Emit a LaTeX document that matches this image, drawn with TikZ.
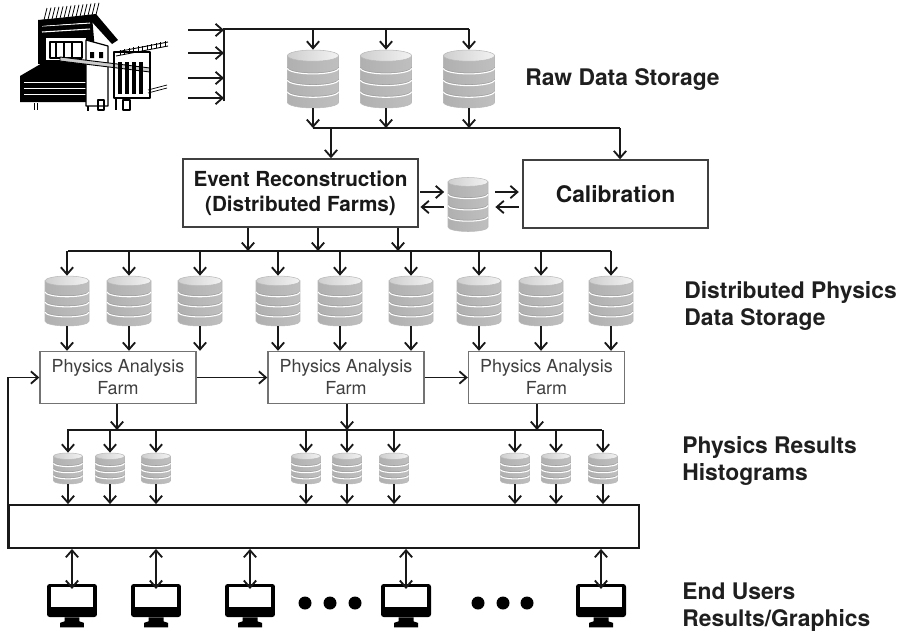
\documentclass[tikz,border=0pt]{standalone}
\usepackage{fontspec}
\setmainfont{TeX Gyre Heros}
\usetikzlibrary{arrows.meta}

% disk stack: name, centre, width, height (all in px units of the picture)
\newcommand{\dbstack}[4]{%
  \node[inner sep=0pt, minimum width={#3*0.02cm}, minimum height={#4*0.02cm}] (#1) at (#2) {};
  \begin{scope}[shift={(#1.center)}]
    \pgfmathsetmacro\dbrx{#3/2}
    \pgfmathsetmacro\dbry{#3*0.11}
    \pgfmathsetmacro\dbtop{-#4/2+\dbry}
    \pgfmathsetmacro\dbbot{#4/2-\dbry}
    \pgfmathsetmacro\dbseg{(\dbbot-\dbtop)/4}
    \path[left color=gray!62, middle color=white, right color=gray!50, draw=gray!55, line width=0.3pt]
      (-\dbrx,\dbtop) -- (-\dbrx,\dbbot) arc[start angle=180, end angle=0, x radius=\dbrx, y radius=\dbry] -- (\dbrx,\dbtop) -- cycle;
    \foreach \k in {1,2,3}{
      \pgfmathsetmacro\dby{\dbtop+\k*\dbseg}
      \draw[gray!75, line width=0.35pt] (-\dbrx,\dby) arc[start angle=180, end angle=0, x radius=\dbrx, y radius=\dbry];
      \draw[white, line width=0.6pt] (-\dbrx,\dby+1) arc[start angle=180, end angle=0, x radius=\dbrx, y radius=\dbry];
    }
    \path[left color=gray!38, right color=gray!10, draw=gray!55, line width=0.3pt] (0,\dbtop) ellipse[x radius=\dbrx, y radius=\dbry];
  \end{scope}
}

% desktop display: name, centre of the screen
\newcommand{\userscreen}[2]{%
  \node[fill=black, rounded corners=1.5pt, inner sep=0pt, minimum width=1cm, minimum height=0.66cm] (#1) at (#2) {};
  \fill[white] ([xshift=0.08cm,yshift=-0.07cm]#1.north west) rectangle ([xshift=-0.08cm,yshift=0.2cm]#1.south east);
  \fill[black] ([xshift=-0.15cm]#1.south) -- ([xshift=0.15cm]#1.south) -- ([xshift=0.15cm,yshift=-0.08cm]#1.south)
    -- ([xshift=0.24cm,yshift=-0.11cm]#1.south) -- ([xshift=0.24cm,yshift=-0.2cm]#1.south)
    -- ([xshift=-0.24cm,yshift=-0.2cm]#1.south) -- ([xshift=-0.24cm,yshift=-0.11cm]#1.south)
    -- ([xshift=-0.15cm,yshift=-0.08cm]#1.south) -- cycle;
}

\begin{document}
\begin{tikzpicture}[x=0.02cm, y=-0.02cm,
    arr/.style={-{Straight Barb[length=4pt,width=7pt]}, line width=1.05pt, black!90},
    biarr/.style={{Straight Barb[length=4pt,width=7pt]}-{Straight Barb[length=4pt,width=7pt]}, line width=1.05pt, black!90},
    bus/.style={line width=1.05pt, black!90},
    stagebox/.style={draw=black!75, line width=0.8pt, fill=white, inner sep=0pt, align=center, text=black!90},
    farmbox/.style={draw=black!55, line width=0.8pt, fill=white, inner sep=0pt, minimum width=3.12cm, minimum height=1.04cm,
      align=center, text=black!75, font=\fontsize{10.2}{12.5}\selectfont},
    tag/.style={anchor=west, inner sep=0pt, align=left, text=black!88, font=\bfseries\fontsize{13}{15.6}\selectfont}]
\useasboundingbox (0,0) rectangle (909,633);

% detector
\begin{scope}[line width=0.7pt, line join=round]
  \fill[black] (20,76) -- (44,62) -- (90,62) -- (90,102) -- (20,102) -- cycle;
  \foreach \y in {82,88,94} \draw[white, line width=0.4pt] (24,\y) -- (86,\y);
  \fill[black] (38,20) -- (92,16) -- (96,62) -- (38,64) -- cycle;
  \fill[white] (46,38) rectangle (86,60);
  \draw[white, line width=0.6pt] (42,26) -- (90,23) (42,32) -- (90,29);
  \draw (50,42) rectangle (82,58) (56,42) -- (56,58) (64,42) -- (64,58) (72,42) -- (72,58);
  \fill[black] (40,20) -- (96,14) -- (118,40) -- (112,44) -- (92,22) -- (40,26) -- cycle;
  \foreach \i in {0,...,13} \draw[line width=0.45pt] (44+4*\i,{20-0.4*\i}) -- (47+4*\i,{8-0.4*\i});
  \filldraw[fill=white] (86,40) -- (108,46) -- (108,106) -- (86,106) -- cycle;
  \fill (90,52) rectangle (94,58) (99,52) rectangle (103,58);
  \filldraw[fill=gray!40, line width=0.5pt] (60,57) -- (150,68) -- (150,72) -- (60,61) -- cycle;
  \draw (114,52) rectangle (150,98);
  \foreach \x in {118,125,132,139} \fill (\x,62) rectangle (\x+4,94);
  \draw[line width=0.5pt] (116,52) -- (168,42) (116,56) -- (168,46);
  \foreach \i in {0,...,10} \draw[line width=0.4pt] (120+4.5*\i,{55-0.9*\i}) -- (120+4.5*\i,{50-0.9*\i});
  \draw (88,106) -- (88,111) (98,100) rectangle (104,110) (116,98) -- (116,110) (123,100) rectangle (130,110);
  \draw[line width=0.4pt] (148,90) -- (167,85) (148,93) -- (167,88);
  \draw[line width=0.4pt] (34,103) -- (34,110) (37,103) -- (37,110);
\end{scope}

% raw data
\foreach \i/\y in {1/30,2/53,3/78,4/98} \coordinate (in\i) at (188,\y);
\coordinate (inbus) at (224,29);
\coordinate (inbusend) at (224,101);
\dbstack{raw1}{313,79}{51}{58}
\dbstack{raw2}{386,79}{51}{58}
\dbstack{raw3}{469,79}{51}{58}
\draw[bus] (inbusend) -- (inbus) -- (inbus -| raw3.north);
\foreach \i in {1,...,4} \draw[arr] (in\i) -- (in\i -| inbus);
\foreach \i in {1,2,3} \draw[arr] (raw\i.north |- inbus) -- (raw\i.north);
\coordinate (rawout) at (313,128);
\coordinate (rawend) at (620,128);
\coordinate (toreco) at (331,128);
\draw[bus] (rawout) -- (rawend);
\foreach \i in {1,2,3} \draw[arr] (raw\i.south) -- (raw\i.south |- rawout);
\node[tag] (rawlbl) at (525,80) {Raw Data Storage};

% reconstruction and calibration
\node[stagebox, minimum width=4.7cm, minimum height=1.36cm, font=\bfseries\fontsize{11.8}{14.2}\selectfont] (reco) at (300.5,193) {Event Reconstruction\\(Distributed Farms)};
\node[stagebox, minimum width=3.7cm, minimum height=1.36cm, font=\bfseries\fontsize{13}{15}\selectfont] (calib) at (615.5,194) {Calibration};
\dbstack{calstore}{468,204.5}{40}{54}
\draw[arr] (toreco) -- (toreco |- reco.north);
\draw[arr] (rawend) -- (rawend |- calib.north);
\coordinate (hi) at (0,192);
\coordinate (lo) at (0,207);
\draw[arr, shorten <=1pt, shorten >=2pt] (reco.east |- hi) -- (calstore.west |- hi);
\draw[arr, shorten <=2pt, shorten >=1pt] (calstore.west |- lo) -- (reco.east |- lo);
\draw[arr, shorten <=4pt, shorten >=2pt] (calstore.east |- hi) -- (calib.west |- hi);
\draw[arr, shorten <=2pt, shorten >=4pt] (calib.west |- lo) -- (calstore.east |- lo);

% distributed physics data
\foreach \i/\x in {1/248,2/318,3/398} \coordinate (d\i) at (\x,251);
\coordinate (dbusL) at (68,251);
\coordinate (dbusR) at (611,251);
\draw[bus] (dbusL) -- (dbusR);
\foreach \i in {1,2,3} \draw[arr] (reco.south -| d\i) -- (d\i);
\foreach \i/\x in {1/67,2/129,3/200,4/278,5/340,6/411,7/479,8/541,9/611} {\dbstack{dps\i}{\x,301}{44}{50}}
\foreach \i in {1,...,9} \draw[arr] (dps\i.north |- dbusL) -- (dps\i.north);
\node[tag] (dpslbl) at (684,306) {Distributed Physics\\Data Storage};

% analysis farms
\node[farmbox] (farm1) at (118,377.5) {Physics Analysis\\Farm};
\node[farmbox] (farm2) at (346,377.5) {Physics Analysis\\Farm};
\node[farmbox] (farm3) at (546.5,377.5) {Physics Analysis\\Farm};
\foreach \i/\f in {1/1,2/1,3/1,4/2,5/2,6/2,7/3,8/3,9/3} \draw[arr] (dps\i.south) -- (dps\i.south |- farm\f.north);
\draw[arr] (farm1) -- (farm2);
\draw[arr] (farm2) -- (farm3);

% histograms
\coordinate (hbusL) at (67,430);
\coordinate (hbusR) at (602,430);
\foreach \i/\x in {1/117,2/347,3/537} \coordinate (fo\i) at (\x,430);
\draw[bus] (hbusL) -- (hbusR);
\foreach \i in {1,2,3} \draw[arr] (farm\i.south -| fo\i) -- (fo\i);
\foreach \i/\x in {1/68,2/110,3/156,4/306,5/347,6/394,7/515,8/556,9/603} {\dbstack{hist\i}{\x,468.5}{29}{31}}
\foreach \i in {1,...,9} \draw[arr] (hist\i.north |- hbusL) -- (hist\i.north);
\node[tag] (histlbl) at (682,461) {Physics Results\\Histograms};

% access network and end users
\node[draw=black!90, line width=1.05pt, inner sep=0pt, minimum width=12.6cm, minimum height=0.86cm] (net) at (324,526.5) {};
\foreach \i in {1,...,9} \draw[arr] (hist\i.south) -- (hist\i.south |- net.north);
\draw[arr] (net.south west) |- (farm1.west);
\foreach \i/\x in {1/72,2/156,3/250,4/406,5/601} {\userscreen{user\i}{\x,600.5}}
\foreach \i in {1,...,5} \draw[biarr] (net.south -| user\i.north) -- ([yshift=-3pt]user\i.north);
\foreach \x in {305,330,355,478,503,527} \fill[black] (\x,603) circle[radius=6.5];
\node[tag] (userlbl) at (682,607) {End Users\\Results/Graphics};
\end{tikzpicture}
\end{document}
